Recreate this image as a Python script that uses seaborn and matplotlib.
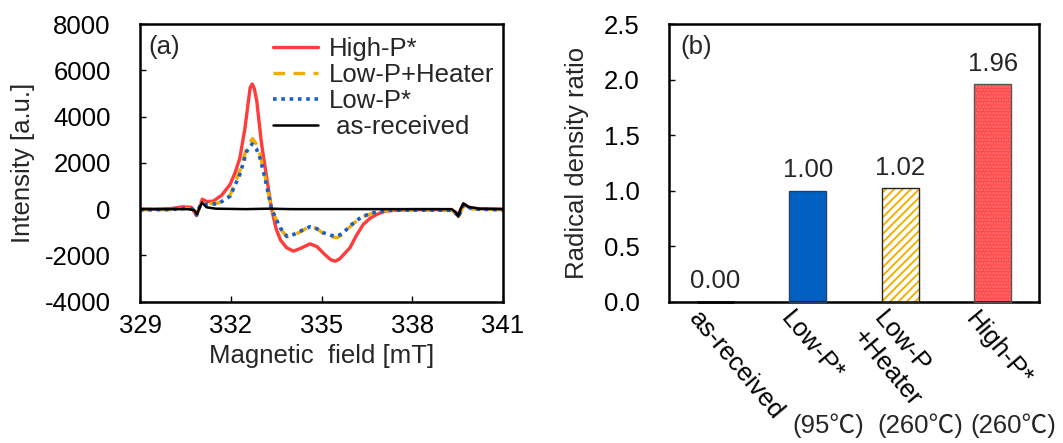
import matplotlib
matplotlib.use("Agg")
import matplotlib.pyplot as plt
import matplotlib.transforms as mtransforms
from matplotlib.lines import Line2D
import seaborn as sns

# ---- (a) ESR spectra ----
field_high = [329.0, 329.5, 330.0, 330.4, 330.7, 330.87, 330.95, 331.06, 331.2, 331.42,
              331.7, 331.98, 332.15, 332.3, 332.47, 332.64, 332.71, 332.78, 332.86, 333.02,
              333.19, 333.35, 333.5, 333.65, 333.85, 334.07, 334.3, 334.62, 334.85, 335.1,
              335.3, 335.45, 335.6, 335.94, 336.15, 336.38, 336.6, 336.82, 337.1, 337.5,
              338.0, 338.8, 339.3, 339.45, 339.52, 339.6, 339.69, 339.9, 340.3, 341.0]
int_high = [10, 0, 20, 100, 80, -280, 0, 430, 330, 345,
            600, 1070, 1600, 2200, 3500, 5240, 5410, 5200, 4670, 2800,
            1350, 0, -850, -1350, -1670, -1815, -1700, -1500, -1620, -1950,
            -2180, -2250, -2150, -1670, -1150, -660, -400, -230, -90, -40,
            -20, -20, -30, -150, -300, 0, 220, 60, 10, 0]

field_heater = [329.0, 330.0, 330.5, 330.75, 330.87, 331.0, 331.15, 331.59, 331.98, 332.3,
                332.53, 332.72, 332.85, 332.97, 333.13, 333.35, 333.63, 333.85, 334.07, 334.35,
                334.62, 334.85, 335.06, 335.3, 335.5, 335.7, 335.94, 336.15, 336.38, 336.71,
                337.2, 338.5, 339.3, 339.45, 339.52, 339.62, 339.7, 340.0, 341.0]
int_heater = [-30, -20, 30, 0, -250, 200, 230, 260, 600, 1650,
              2650, 3050, 2800, 2350, 1450, 0, -820, -1200, -1130, -950,
              -720, -850, -1050, -1180, -1240, -1100, -760, -520, -320, -170,
              -50, -40, -50, -200, -380, -50, 180, 0, -30]

field_lowp = [329.0, 330.0, 330.5, 330.75, 330.87, 331.0, 331.15, 331.59, 331.98, 332.3,
              332.53, 332.71, 332.85, 332.97, 333.13, 333.35, 333.63, 333.85, 334.07, 334.35,
              334.62, 334.85, 335.06, 335.3, 335.5, 335.7, 335.94, 336.15, 336.38, 336.71,
              337.2, 338.5, 339.3, 339.45, 339.52, 339.62, 339.7, 340.0, 341.0]
int_lowp = [-30, -20, 30, 0, -250, 200, 200, 230, 560, 1500,
            2500, 2820, 2600, 2200, 1350, 0, -800, -1170, -1100, -920,
            -760, -850, -1020, -1130, -1170, -1050, -730, -500, -300, -160,
            -50, -40, -50, -200, -350, -50, 180, 0, -30]

field_asrec = [329.0, 330.6, 330.8, 330.88, 330.95, 331.05, 331.2, 331.5, 332.5, 333.3,
               334.0, 339.3, 339.45, 339.52, 339.6, 339.69, 339.85, 340.2, 341.0]
int_asrec = [0, 0, -50, -220, 0, 280, 80, 20, 0, 20,
             0, 0, -150, -320, 0, 250, 100, 20, 0]

series_names = ["High-P*", "Low-P+Heater", "Low-P*", " as-received"]

# ---- (b) radical density ratio ----
categories = ["as-received", "Low-P*", "Low-P\n+Heater", "High-P*"]
temps = ["", "(95℃)", "(260℃)", "(260℃)"]
ratios = [0.00, 1.00, 1.02, 1.96]

FS = 18.5

sns.set_theme(style="ticks")
plt.rcParams["font.family"] = ["Liberation Sans", "Noto Sans CJK JP", "DejaVu Sans"]
plt.rcParams["axes.unicode_minus"] = False
plt.rcParams["hatch.linewidth"] = 1.4

fig = plt.figure(figsize=(10.63, 4.43), dpi=100)
ax1 = fig.add_axes([140 / 1063, 1 - 301.7 / 443, 363 / 1063, 277.7 / 443])
ax2 = fig.add_axes([669 / 1063, 1 - 301.7 / 443, 370 / 1063, 277.7 / 443])

styles = [
    (field_high, int_high, "#FF3B3B", "-", 2.4),
    (field_heater, int_heater, "#F2AC00", (0, (3.5, 2.5)), 2.4),
    (field_lowp, int_lowp, "#1A5FC8", (0, (1, 1.3)), 2.6),
    (field_asrec, int_asrec, "black", "-", 1.8),
]
handles = []
for (fx, fy, col, ls, lw), name in zip(styles, series_names):
    sns.lineplot(x=fx, y=fy, ax=ax1, color=col, linestyle=ls, linewidth=lw, sort=False)
    handles.append(Line2D([], [], color=col, linestyle=ls, linewidth=lw, label=name))

ax1.set_xlim(329, 341)
ax1.set_ylim(-4000, 8000)
ax1.set_xticks([329, 332, 335, 338, 341])
ax1.set_yticks(range(-4000, 8001, 2000))
ax1.set_xlabel("Magnetic  field [mT]", fontsize=FS, labelpad=4)
ax1.set_ylabel("Intensity [a.u.]", fontsize=FS, labelpad=7)
ax1.tick_params(axis="x", direction="in", length=4, width=1, pad=9, labelsize=FS)
ax1.tick_params(axis="y", direction="in", length=4, width=1, pad=21, labelsize=FS)
ax1.text(0.022, 0.96, "(a)", transform=ax1.transAxes, fontsize=FS, va="top", ha="left")
ax1.legend(handles=handles, loc="upper left", bbox_to_anchor=(0.325, 1.01), frameon=False,
           fontsize=FS, handlelength=1.75, handletextpad=0.4, labelspacing=0.08,
           borderaxespad=0.2)

# bars
fill_colors = ["black", "#0061C2", "white", "#FF4545"]
hatch_colors = ["black", "#0061C2", "#F2B000", "#FF7575"]
edge_colors = ["black", "#23406B", "#222222", "#555555"]
hatches = [None, None, "////", "....."]
sns.barplot(x=categories, y=ratios, hue=categories, palette=fill_colors, legend=False,
            width=0.4, ax=ax2, saturation=1)
for patch, hc, h in zip(ax2.patches, hatch_colors, hatches):
    patch.set_edgecolor(hc)
    patch.set_linewidth(0)
    if h:
        patch.set_hatch(h)
ax2.bar(range(len(ratios)), ratios, width=0.4, fill=False, edgecolor=edge_colors,
        linewidth=[1.8, 1, 1, 1], clip_on=False, zorder=3)

for i, v in enumerate(ratios):
    ax2.annotate(f"{v:.2f}", (i, v), xytext=(0, 6), textcoords="offset points",
                 ha="center", va="bottom", fontsize=FS)

ax2.set_xlim(-0.5, 3.5)
ax2.set_ylim(0, 2.5)
ax2.set_yticks([0, 0.5, 1.0, 1.5, 2.0, 2.5])
ax2.set_yticklabels([f"{t:.1f}" for t in [0, 0.5, 1.0, 1.5, 2.0, 2.5]])
ax2.set_ylabel("Radical density ratio", fontsize=FS, labelpad=11)
ax2.set_xlabel("")
ax2.tick_params(axis="y", direction="in", length=4, width=1, pad=21, labelsize=FS)
ax2.tick_params(axis="x", length=0, pad=4, labelsize=FS)
ax2.set_xticks(range(len(categories)))
ax2.set_xticklabels(categories, rotation=-50, ha="left", va="top",
                    rotation_mode="anchor", multialignment="left")
shift = mtransforms.ScaledTranslation(-13 / 100, 0, fig.dpi_scale_trans)
for lab in ax2.get_xticklabels():
    lab.set_transform(lab.get_transform() + shift)
tb = mtransforms.blended_transform_factory(ax2.transData, ax2.transAxes)
for i, t in enumerate(temps):
    if t:
        ax2.text(i + 0.22, -0.445, t, transform=tb, ha="center", va="center", fontsize=FS)
ax2.text(0.03, 0.96, "(b)", transform=ax2.transAxes, fontsize=FS, va="top", ha="left")

for ax in (ax1, ax2):
    for sp in ax.spines.values():
        sp.set_visible(True)
        sp.set_linewidth(1.8)
        sp.set_color("black")
    ax.tick_params(colors="black", labelcolor="black")

fig.savefig("out.png", dpi=100)
